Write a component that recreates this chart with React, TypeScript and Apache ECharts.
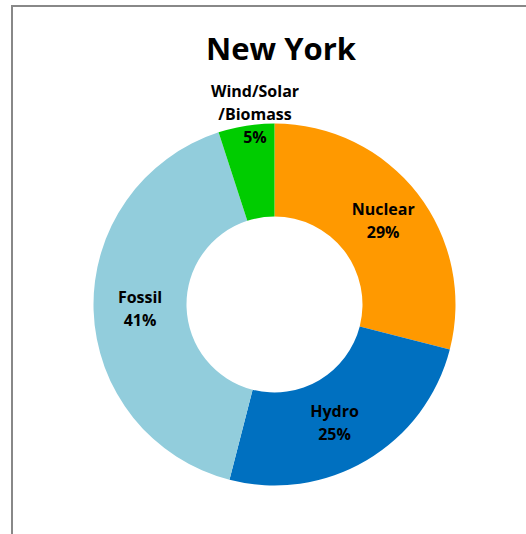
import React, { useEffect, useRef } from "react";
import * as echarts from "echarts";

const categories = ["Nuclear", "Hydro", "Fossil", "Wind/Solar\n/Biomass"];
const values = [29, 25, 41, 5];
const colors = ["#FF9900", "#0070C0", "#92CDDC", "#00CC00"];
const titleText = "New York";

export default function App() {
  const ref = useRef<HTMLDivElement>(null);
  useEffect(() => {
    document.body.style.margin = "0";
    const chart = echarts.init(ref.current!, null, { renderer: "svg" });
    const font = "'Open Sans', 'Noto Sans', sans-serif";
    const offsets: Record<number, number[]> = { 1: [-10, 0], 2: [3, 0], 3: [2, -55] };
    chart.setOption({
      animation: false,
      backgroundColor: "#ffffff",
      title: {
        text: titleText,
        left: 276,
        textAlign: "center",
        top: 27,
        textStyle: { fontFamily: font, fontWeight: "bold", fontSize: 31, color: "#000" },
      },
      graphic: [
        { type: "line", shape: { x1: 12, y1: 5, x2: 12, y2: 534 }, style: { stroke: "#888888", lineWidth: 2 } },
        { type: "line", shape: { x1: 11, y1: 6, x2: 526, y2: 6 }, style: { stroke: "#888888", lineWidth: 2 } },
      ],
      series: [
        {
          type: "pie",
          center: [274.5, 304.5],
          radius: [88, 181],
          startAngle: 90,
          clockwise: true,
          avoidLabelOverlap: false,
          label: {
            show: true,
            position: "inside",
            formatter: (p: any) => `${p.name}\n${p.value}%`,
            fontFamily: font,
            fontWeight: "bold",
            fontSize: 16,
            lineHeight: 23,
            color: "#000",
          },
          labelLine: { show: false },
          itemStyle: { borderWidth: 0 },
          emphasis: { disabled: true },
          data: categories.map((c, i) => ({
            name: c,
            value: values[i],
            itemStyle: { color: colors[i] },
            ...(offsets[i] ? { label: { offset: offsets[i] } } : {}),
          })),
        },
      ],
    });
    return () => chart.dispose();
  }, []);
  return <div ref={ref} style={{ width: 526, height: 534 }} />;
}
